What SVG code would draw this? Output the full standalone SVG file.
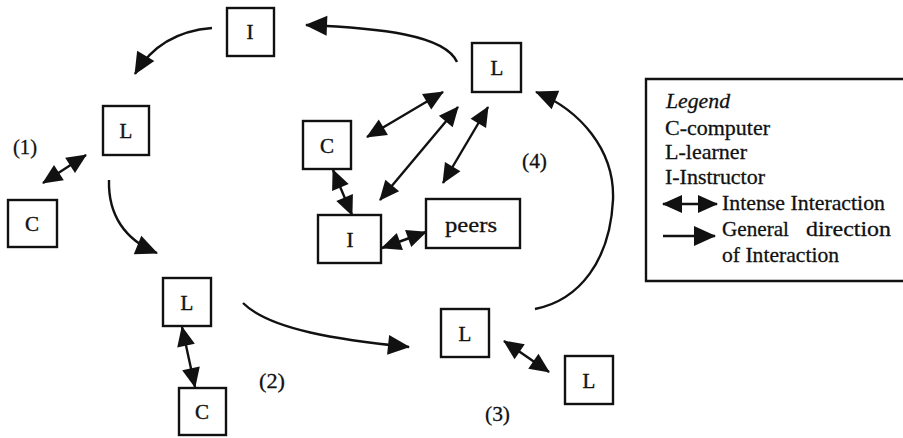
<svg xmlns="http://www.w3.org/2000/svg" width="903" height="438" viewBox="0 0 903 438">
<style>
  .box { fill: #fff; stroke: #111; stroke-width: 2.4; }
  .lbl { font-family: "Liberation Serif", "Times New Roman", serif; font-size: 21px; fill: #111; stroke: #111; stroke-width: 0.4; text-anchor: middle; }
  .txt { font-family: "Liberation Serif", "Times New Roman", serif; font-size: 22px; fill: #111; stroke: #111; stroke-width: 0.3; }
  .dbl { fill: none; stroke: #111; stroke-width: 2.4; marker-start: url(#head); marker-end: url(#head); }
  .dir { fill: none; stroke: #111; stroke-width: 2.4; marker-end: url(#bighead); }
</style>
<defs>
  <marker id="head" markerUnits="userSpaceOnUse" markerWidth="22" markerHeight="20" refX="19" refY="9" orient="auto-start-reverse" overflow="visible">
    <path d="M0,0 L20,9 L0,18 z" fill="#111"/>
  </marker>
  <marker id="bighead" markerUnits="userSpaceOnUse" markerWidth="24" markerHeight="22" refX="21" refY="10" orient="auto" overflow="visible">
    <path d="M0,0 L22,10 L0,20 z" fill="#111"/>
  </marker>
</defs>
<rect width="903" height="438" fill="#fff"/>

<g id="connectors">
  <path class="dir" d="M212,28 Q160,32 135,74"/>
  <path class="dir" d="M109,180 C108,215 125,240 157,253"/>
  <path class="dir" d="M243,303 C270,330 340,340 409,347"/>
  <path class="dir" d="M535,309 C580,300 610,260 613,200 C615,150 580,110 536,92"/>
  <path class="dir" d="M457,62 C445,35 380,28 306,25"/>
  <line class="dbl" x1="43" y1="183" x2="86" y2="155"/>
  <line class="dbl" x1="182" y1="327" x2="195" y2="387"/>
  <line class="dbl" x1="504" y1="341" x2="549" y2="372"/>
  <line class="dbl" x1="367" y1="137" x2="443" y2="92"/>
  <line class="dbl" x1="380" y1="200" x2="458" y2="107"/>
  <line class="dbl" x1="443" y1="183" x2="488" y2="107"/>
  <line class="dbl" x1="333" y1="170" x2="352" y2="215"/>
  <line class="dbl" x1="382" y1="248" x2="426" y2="232"/>
</g>

<g id="i_top"><rect class="box" x="227" y="8" width="47" height="48"/><text class="lbl" x="250" y="39">I</text></g>
<g id="l1"><rect class="box" x="103" y="106" width="46" height="49"/><text class="lbl" x="126" y="138">L</text></g>
<g id="c1"><rect class="box" x="8" y="200" width="49" height="47"/><text class="lbl" x="32" y="231">C</text></g>
<g id="l2"><rect class="box" x="163" y="278" width="48" height="48"/><text class="lbl" x="187" y="310">L</text></g>
<g id="c2"><rect class="box" x="179" y="388" width="47" height="47"/><text class="lbl" x="202" y="419">C</text></g>
<g id="l3"><rect class="box" x="441" y="309" width="48" height="48"/><text class="lbl" x="465" y="341">L</text></g>
<g id="l3b"><rect class="box" x="565" y="356" width="48" height="48"/><text class="lbl" x="589" y="388">L</text></g>
<g id="l4"><rect class="box" x="472" y="43" width="49" height="49"/><text class="lbl" x="497" y="75">L</text></g>
<g id="c4"><rect class="box" x="303" y="121" width="48" height="48"/><text class="lbl" x="327" y="153">C</text></g>
<g id="i4"><rect class="box" x="318" y="215" width="63" height="48"/><text class="lbl" x="350" y="247">I</text></g>
<g id="peers"><rect class="box" x="426" y="199" width="94" height="49"/><text class="txt" x="471" y="232" text-anchor="middle" textLength="52" lengthAdjust="spacingAndGlyphs">peers</text></g>

<g id="group_labels">
  <text class="txt" x="13" y="154" textLength="24" lengthAdjust="spacingAndGlyphs">(1)</text>
  <text class="txt" x="259" y="388" textLength="26" lengthAdjust="spacingAndGlyphs">(2)</text>
  <text class="txt" x="485" y="421" textLength="25" lengthAdjust="spacingAndGlyphs">(3)</text>
  <text class="txt" x="522" y="168" textLength="25" lengthAdjust="spacingAndGlyphs">(4)</text>
</g>

<g id="legend">
  <path d="M906,79 H646 V281 H906" fill="none" stroke="#111" stroke-width="2.4"/>
  <text class="txt" x="666" y="108" font-style="italic" textLength="64" lengthAdjust="spacingAndGlyphs">Legend</text>
  <text class="txt" x="665" y="135" textLength="105" lengthAdjust="spacingAndGlyphs">C-computer</text>
  <text class="txt" x="665" y="159" textLength="82" lengthAdjust="spacingAndGlyphs">L-learner</text>
  <text class="txt" x="665" y="184" textLength="100" lengthAdjust="spacingAndGlyphs">I-Instructor</text>
  <line class="dbl" x1="663" y1="204" x2="717" y2="204"/>
  <text class="txt" x="722" y="210" textLength="163" lengthAdjust="spacingAndGlyphs">Intense Interaction</text>
  <line x1="663" y1="236" x2="715" y2="236" stroke="#111" stroke-width="2.4" marker-end="url(#bighead)"/>
  <text class="txt" x="722" y="236" textLength="67" lengthAdjust="spacingAndGlyphs">General</text>
  <text class="txt" x="806" y="236" textLength="85" lengthAdjust="spacingAndGlyphs">direction</text>
  <text class="txt" x="722" y="262" textLength="117" lengthAdjust="spacingAndGlyphs">of Interaction</text>
</g>
</svg>
